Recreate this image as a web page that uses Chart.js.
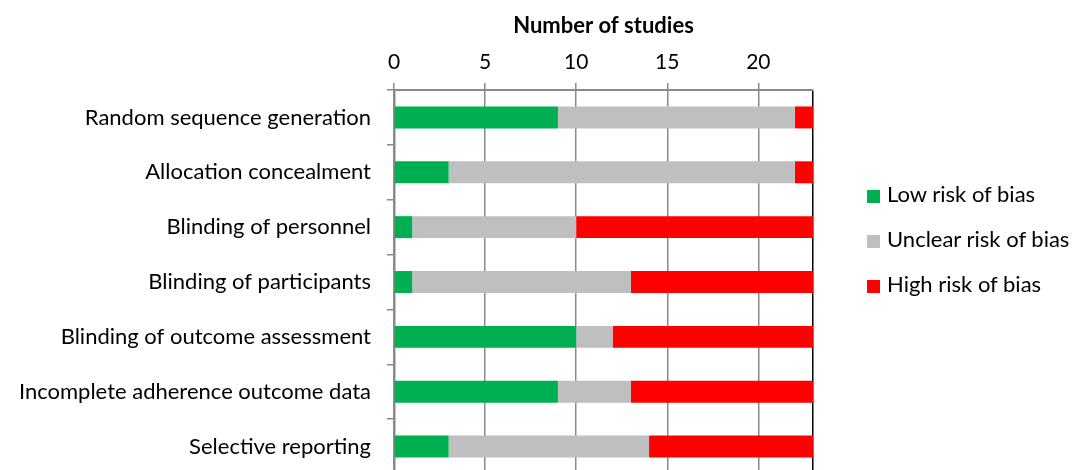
<!DOCTYPE html>
<html>
<head>
<meta charset="utf-8">
<title>Risk of bias</title>
<script src="https://cdn.jsdelivr.net/npm/chart.js@4/dist/chart.umd.min.js"></script>
<style>
	html, body { margin: 0; padding: 0; background: #fff; overflow: hidden; }
	#wrap { position: relative; width: 1074px; height: 474px; }
	#legend { position: absolute; left: 867px; top: 180px; font-family: Lato, sans-serif; font-size: 22px; color: #000; }
	#legend div { height: 45px; line-height: 28px; white-space: nowrap; }
	#legend span { display: inline-block; width: 13px; height: 13px; margin-right: 7px; vertical-align: -1px; }
</style>
</head>
<body>
<div id="wrap">
	<canvas id="myChart" width="1074" height="474"></canvas>
	<div id="legend"></div>
</div>
<script>
var categories = [
	'Random sequence generation',
	'Allocation concealment',
	'Blinding of personnel',
	'Blinding of participants',
	'Blinding of outcome assessment',
	'Incomplete adherence outcome data',
	'Selective reporting'
];
var seriesNames = ['Low risk of bias', 'Unclear risk of bias', 'High risk of bias'];
var lowRisk = [9, 3, 1, 1, 10, 9, 3];
var unclearRisk = [13, 19, 9, 12, 2, 4, 11];
var highRisk = [1, 1, 13, 10, 11, 10, 9];
var xTicks = [0, 5, 10, 15, 20];
var xMax = 23;

var colors = ['#00b050', '#bfbfbf', '#ff0000'];
var series = [lowRisk, unclearRisk, highRisk];
var font = 'Lato';

// legend next to the plot
var legend = document.getElementById('legend');
for (var i = 0; i < seriesNames.length; i++) {
	var row = document.createElement('div');
	row.innerHTML = '<span style="background:' + colors[i] + '"></span>' + seriesNames[i];
	legend.appendChild(row);
}

var datasets = [];
for (var i = 0; i < series.length; i++) {
	datasets.push({
		label: seriesNames[i],
		data: series[i],
		backgroundColor: colors[i],
		borderWidth: 0,
		barPercentage: 0.4,
		categoryPercentage: 1
	});
}

var ctx = document.getElementById('myChart').getContext('2d');
var chart = new Chart(ctx, {
	type: 'bar',
	data: {
		labels: categories,
		datasets: datasets
	},
	options: {
		indexAxis: 'y',
		responsive: false,
		animation: false,
		layout: { padding: { left: 8, right: 261, top: 0, bottom: 0 } },
		plugins: {
			legend: { display: false },
			tooltip: { enabled: false }
		},
		scales: {
			x: {
				position: 'top',
				stacked: true,
				min: 0,
				max: xMax,
				afterBuildTicks: function (scale) {
					scale.ticks = xTicks.concat([xMax]).map(function (v) { return { value: v }; });
				},
				afterFit: function (scale) {
					scale.height = 90;
				},
				title: {
					display: true,
					text: 'Number of studies',
					color: '#000',
					font: { family: font, size: 22, weight: 'bold' },
					padding: { top: 13, bottom: 0 }
				},
				ticks: {
					color: '#000',
					font: { family: font, size: 21 },
					padding: 8,
					maxRotation: 0,
					callback: function (v) { return xTicks.indexOf(v) >= 0 ? v : ''; }
				},
				grid: {
					color: function (c) { return c.tick && c.tick.value === xMax ? '#000' : '#8a8a8a'; },
					tickColor: function (c) { return c.tick && c.tick.value === xMax ? 'rgba(0,0,0,0)' : '#8a8a8a'; },
					lineWidth: 1.5,
					tickLength: 7
				},
				border: { color: '#8a8a8a', width: 2 }
			},
			y: {
				stacked: true,
				afterFit: function (scale) {
					// full width up to the axis line, no extra room above/below the rows
					scale.width = 394 - 8;
					scale.paddingTop = 0;
					scale.paddingBottom = 0;
				},
				ticks: {
					color: '#000',
					font: { family: font, size: 22 },
					padding: 16
				},
				grid: {
					drawOnChartArea: false,
					color: '#8a8a8a',
					lineWidth: 1.5,
					tickLength: 7
				},
				border: { color: '#8a8a8a', width: 2.5 }
			}
		}
	}
});
</script>
</body>
</html>
